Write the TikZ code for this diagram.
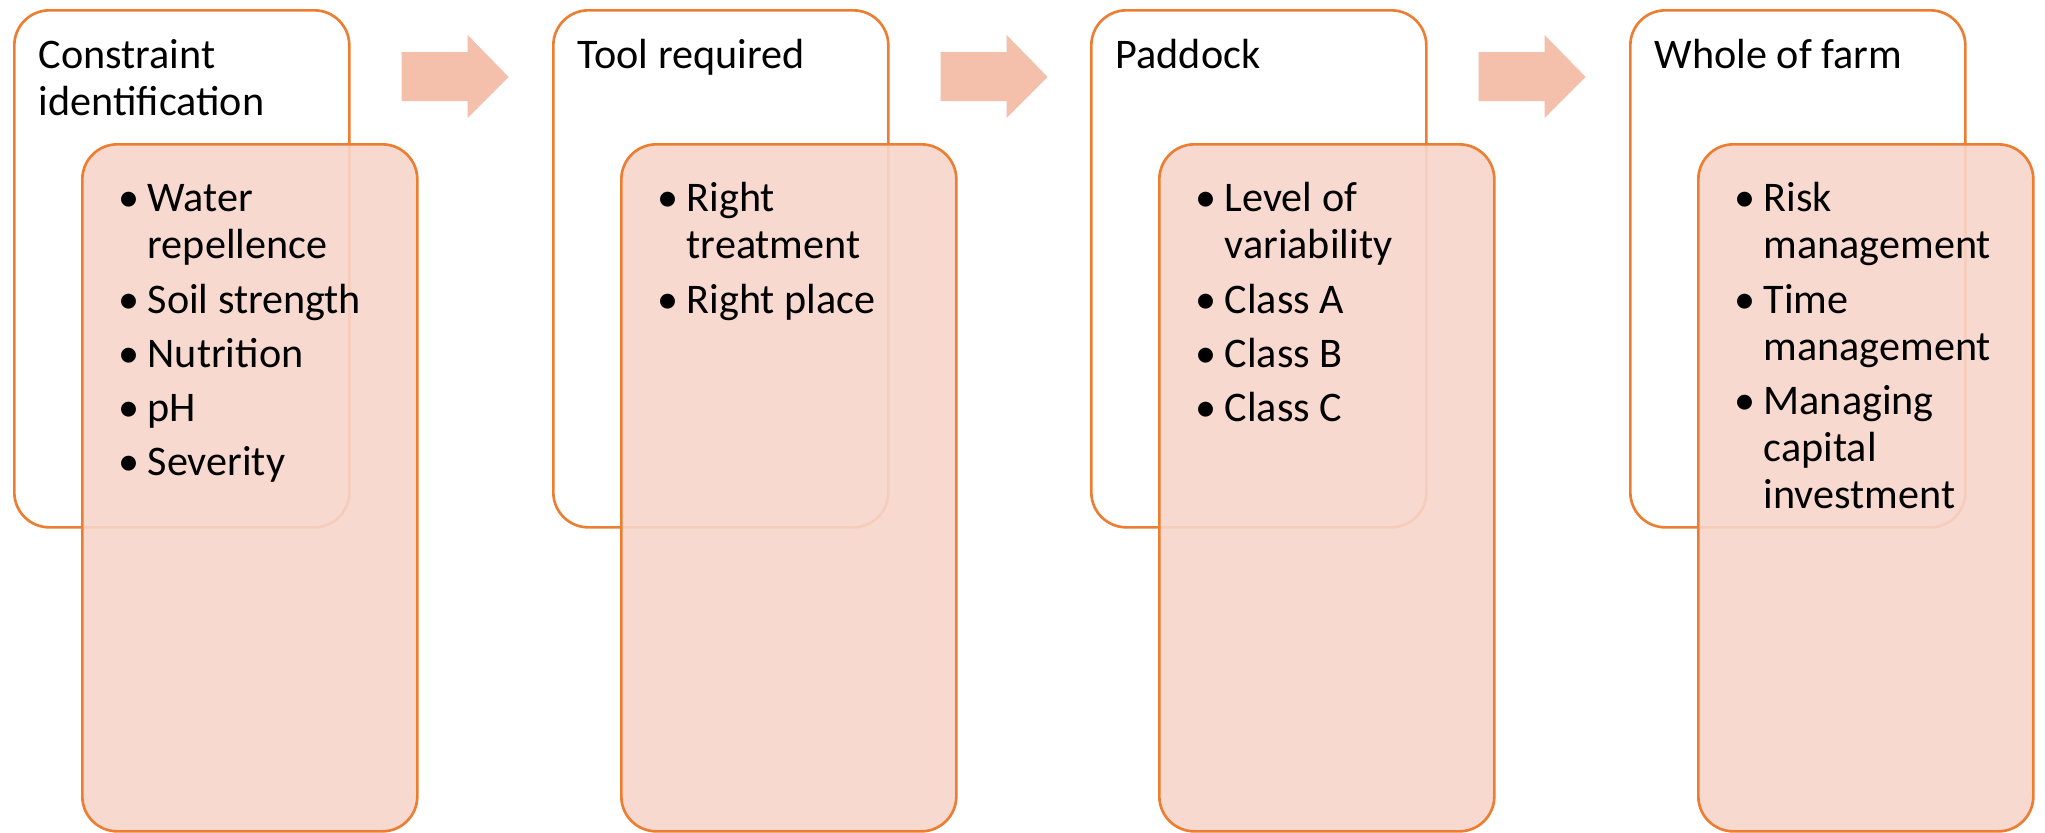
\documentclass[tikz,border=0pt]{standalone}
\usepackage{fontspec}
\setmainfont{Carlito}
\usetikzlibrary{positioning,calc}

\definecolor{stepline}{HTML}{ED7D31}
\definecolor{stepfill}{RGB}{247,213,202}
\definecolor{steparrow}{HTML}{F4BFAB}

% bullet, continuation indent and a fixed first-line height
\newcommand{\bul}{\makebox[2.9mm][l]{\textbullet}}
\newcommand{\cnt}{\makebox[2.9mm]{}}
\newcommand{\tstr}{\rule{0pt}{10pt}}

\begin{document}
\begin{tikzpicture}[x=0.1mm,y=-0.1mm,
    font={\fontsize{12pt}{13.4pt}\selectfont},
    outerbox/.style={draw=stepline,line width=0.75pt,rounded corners=3.5mm,
        minimum width=33.5mm,minimum height=51.7mm,anchor=north west,inner sep=0pt},
    innerbox/.style={draw=stepline,line width=0.75pt,fill=stepfill,fill opacity=0.9,
        rounded corners=3.5mm,minimum width=33.5mm,minimum height=68.7mm,
        anchor=north west,inner sep=0pt},
    title/.style={anchor=north west,align=left,inner sep=0pt},
    items/.style={anchor=north west,align=left,inner sep=0pt},
    flow/.style={fill=steparrow,draw=none}]
    \useasboundingbox (0,0) rectangle (2045,832);

    % Outer boxes, one per step:
    \node [outerbox] (con)  at (13,9)   {};
    \node [outerbox] (tool) at (552,9)  {};
    \node [outerbox] (pad)  at (1090,9) {};
    \node [outerbox] (farm) at (1629,9) {};

    % Shaded boxes with the details, overlapping the outer ones:
    \foreach \b in {con,tool,pad,farm}{%
        \node [innerbox] (\b-body) at ($(\b.north west)+(68,134)$) {};
    }

    % Titles:
    \node [title] (contitle)  at ($(con.north west)+(25,24)$)  {\tstr Constraint\\identification};
    \node [title] (tooltitle) at ($(tool.north west)+(25,24)$) {\tstr Tool required};
    \node [title] (padtitle)  at ($(pad.north west)+(25,24)$)  {\tstr Paddock};
    \node [title] (farmtitle) at ($(farm.north west)+(25,24)$) {\tstr Whole of farm};

    % Bullet lists:
    \node [items] (conlist) at ($(con-body.north west)+(37,33)$)
        {\tstr\bul Water\\ \cnt repellence\\[2pt] \bul Soil strength\\[2pt] \bul Nutrition\\[2pt]
         \bul pH\\[2pt] \bul Severity};
    \node [items] (toollist) at ($(tool-body.north west)+(37,33)$)
        {\tstr\bul Right\\ \cnt treatment\\[2pt] \bul Right place};
    \node [items] (padlist) at ($(pad-body.north west)+(37,33)$)
        {\tstr\bul Level of\\ \cnt variability\\[2pt] \bul Class A\\[2pt] \bul Class B\\[2pt]
         \bul Class C};
    \node [items] (farmlist) at ($(farm-body.north west)+(37,33)$)
        {\tstr\bul Risk\\ \cnt management\\[2pt] \bul Time\\ \cnt management\\[2pt]
         \bul Managing\\ \cnt capital\\ \cnt investment};

    % Block arrows between the steps:
    \foreach \b in {con,tool,pad}{%
        \fill [flow] ($(\b.north east)+(51,43)$) -- ++(66,0) -- ++(0,-17) -- ++(41,42)
            -- ++(-41,41) -- ++(0,-17) -- ++(-66,0) -- cycle;
    }
\end{tikzpicture}
\end{document}
